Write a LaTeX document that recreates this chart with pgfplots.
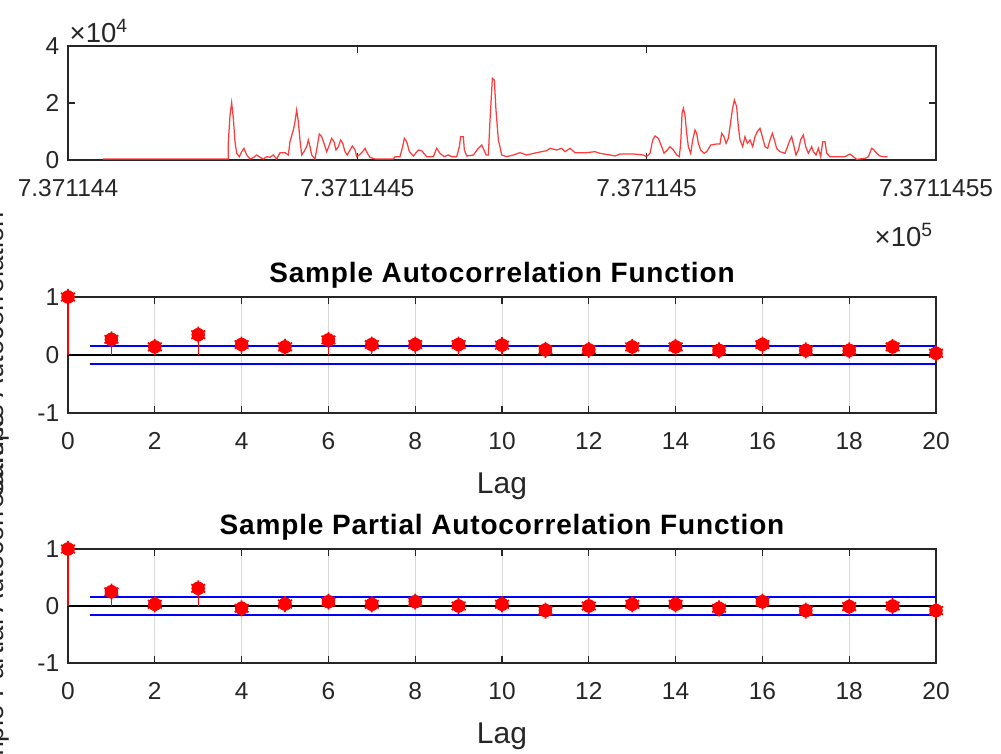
\documentclass[border=0pt]{standalone}
\usepackage{fontspec}
\setmainfont{Liberation Sans}
\usepackage{pgfplots}
\usepackage{pgfplotstable}
\pgfplotsset{compat=1.18}

\definecolor{axgray}{gray}{0.15}
\definecolor{gridgray}{gray}{0.85}
\definecolor{lred}{RGB}{255,60,60}

% price series, x in units of 0.01 day after 7.371144e5, y in 1e4
\pgfplotstableread{
x v
0.605 0.035
2.771 0.035
2.771 0.643
2.800 1.579
2.828 2.012
2.857 1.462
2.886 0.643
2.915 0.234
2.961 0.117
3.001 0.292
3.041 0.409
3.088 0.175
3.145 0.035
3.203 0.082
3.260 0.175
3.318 0.094
3.376 0.035
3.433 0.117
3.491 0.094
3.548 0.175
3.606 0.035
3.664 0.257
3.750 0.257
3.808 0.175
3.836 0.643
3.894 1.053
3.923 1.345
3.952 1.754
3.980 1.345
4.009 0.702
4.038 0.175
4.078 0.292
4.124 0.468
4.153 0.702
4.182 0.468
4.211 0.175
4.268 0.035
4.297 0.351
4.343 0.912
4.384 0.819
4.424 0.585
4.470 0.292
4.516 0.526
4.556 0.760
4.597 0.643
4.631 0.351
4.672 0.468
4.712 0.702
4.747 0.585
4.787 0.292
4.827 0.175
4.873 0.351
4.914 0.491
4.960 0.351
4.988 0.117
5.035 0.175
5.092 0.292
5.133 0.409
5.173 0.234
5.219 0.094
5.305 0.035
5.622 0.035
5.651 0.117
5.737 0.117
5.783 0.468
5.812 0.760
5.853 0.643
5.899 0.292
5.968 0.140
6.054 0.351
6.112 0.327
6.198 0.117
6.313 0.117
6.371 0.409
6.429 0.234
6.498 0.117
6.573 0.175
6.630 0.117
6.717 0.117
6.763 0.468
6.786 0.819
6.832 0.819
6.849 0.351
6.889 0.140
7.005 0.175
7.091 0.409
7.149 0.526
7.189 0.351
7.224 0.175
7.264 0.175
7.293 1.404
7.333 2.866
7.367 2.807
7.396 1.754
7.437 0.702
7.465 0.468
7.494 0.175
7.581 0.117
7.696 0.175
7.811 0.257
7.926 0.175
8.099 0.257
8.272 0.327
8.330 0.409
8.445 0.351
8.531 0.409
8.589 0.292
8.675 0.409
8.762 0.257
8.963 0.257
9.107 0.292
9.193 0.234
9.366 0.175
9.453 0.140
9.539 0.211
9.770 0.211
9.942 0.175
10.000 0.117
10.058 0.234
10.104 0.702
10.144 0.842
10.202 0.760
10.259 0.468
10.300 0.234
10.346 0.327
10.403 0.468
10.461 0.351
10.519 0.175
10.564 0.117
10.588 0.585
10.611 1.637
10.634 1.813
10.662 1.579
10.691 0.936
10.720 0.468
10.760 0.234
10.795 0.702
10.835 1.053
10.864 0.936
10.893 0.585
10.933 0.351
10.991 0.234
11.037 0.292
11.106 0.526
11.210 0.561
11.267 0.561
11.296 0.936
11.336 0.819
11.371 0.585
11.411 0.760
11.440 1.170
11.480 1.754
11.515 2.105
11.555 1.871
11.584 1.170
11.613 0.702
11.659 0.468
11.699 0.819
11.740 0.585
11.786 0.702
11.832 0.468
11.872 0.819
11.912 0.994
11.958 1.111
11.999 0.819
12.045 0.468
12.091 0.409
12.131 0.702
12.172 0.936
12.200 0.760
12.246 0.409
12.304 0.292
12.390 0.234
12.477 0.702
12.506 0.819
12.546 0.468
12.580 0.175
12.621 0.351
12.661 0.702
12.707 0.877
12.748 0.468
12.794 0.234
12.851 0.468
12.880 0.292
12.926 0.175
12.967 0.409
13.007 0.117
13.042 0.643
13.082 0.643
13.111 0.234
13.168 0.117
13.427 0.117
13.514 0.211
13.571 0.117
13.629 0.023
13.773 0.058
13.831 0.117
13.888 0.409
13.917 0.374
13.975 0.234
14.032 0.140
14.090 0.117
14.165 0.117
}\series

\pgfplotstableread{
lag r
0 1
1 0.27
2 0.14
3 0.35
4 0.18
5 0.14
6 0.26
7 0.18
8 0.18
9 0.18
10 0.17
11 0.09
12 0.09
13 0.14
14 0.14
15 0.08
16 0.18
17 0.08
18 0.08
19 0.14
20 0.03
}\acf

\pgfplotstableread{
lag r
0 1
1 0.25
2 0.03
3 0.31
4 -0.04
5 0.035
6 0.075
7 0.03
8 0.075
9 0.0
10 0.03
11 -0.08
12 0.0
13 0.03
14 0.03
15 -0.04
16 0.075
17 -0.08
18 -0.01
19 0.0
20 -0.08
}\pacf

\pgfplotsset{
  mat/.style={
    scale only axis, width=347.2pt, anchor=south west,
    axis line style={axgray, line width=0.5pt},
    tick style={axgray, line width=0.5pt},
    major tick length=2.8pt,
    ticklabel style={font=\fontsize{9.8}{11}\selectfont, text=axgray},
    xticklabel style={anchor=center, yshift=-11.2pt},
    /pgf/number format/assume math mode=true,
  },
  corr/.style={
    mat, height=46.4pt,
    xmin=0, xmax=20, ymin=-1, ymax=1,
    xtick={0,2,...,20}, ytick={-1,0,1}, yticklabels={-1,0,1},
    xmajorgrids, grid style={gridgray, line width=0.4pt},
    clip=false,
    title style={font=\fontsize{11.2}{13}\selectfont\bfseries\addfontfeatures{LetterSpace=3},
      at={(0.5,1)}, anchor=center, yshift=2.8pt},
    xlabel={Lag},
    xlabel style={font=\fontsize{12}{14}\selectfont, text=axgray, at={(0.5,0)}, anchor=center, yshift=-29.5pt},
  },
  stems/.style={red, ycomb, line width=0.45pt},
  dots/.style={red, only marks, mark=*, mark size=2.5pt},
  stars/.style={red, only marks, mark=asterisk, mark size=3.2pt, line width=0.7pt},
}

\begin{document}
\begin{tikzpicture}
\useasboundingbox (0,0) rectangle (400.4pt,301.6pt);
\clip (0,0) rectangle (400.4pt,301.6pt);

\begin{axis}[mat, at={(27.2pt,237.6pt)}, height=45.6pt,
  xmin=0, xmax=15, ymin=0, ymax=4,
  xtick={0,5,10,15},
  xticklabels={7.371144,7.3711445,7.371145,7.3711455},
  ytick={0,2,4}, yticklabels={0,2,4}]
\addplot[lred, line width=0.5pt] table[x=x, y=v] {\series};
\end{axis}

\begin{axis}[corr, at={(27.2pt,136.4pt)}, title={Sample Autocorrelation Function}]
\addplot[black, line width=0.45pt] coordinates {(0,0) (20,0)};
\addplot[blue, line width=0.6pt] coordinates {(0.5,0.155) (20,0.155)};
\addplot[blue, line width=0.6pt] coordinates {(0.5,-0.155) (20,-0.155)};
\addplot[stems] table[x=lag, y=r] {\acf};
\addplot[dots] table[x=lag, y=r] {\acf};
\addplot[stars] table[x=lag, y=r] {\acf};
\end{axis}

\begin{axis}[corr, at={(27.2pt,36.4pt)}, height=45.6pt, title={Sample Partial Autocorrelation Function}]
\addplot[black, line width=0.45pt] coordinates {(0,0) (20,0)};
\addplot[blue, line width=0.6pt] coordinates {(0.5,0.155) (20,0.155)};
\addplot[blue, line width=0.6pt] coordinates {(0.5,-0.155) (20,-0.155)};
\addplot[stems] table[x=lag, y=r] {\pacf};
\addplot[dots] table[x=lag, y=r] {\pacf};
\addplot[stars] table[x=lag, y=r] {\pacf};
\end{axis}

% multipliers and the clipped y labels
\node[text=axgray, font=\fontsize{11}{12}\selectfont] at (39.6pt,289.2pt) {×10\textsuperscript{4}};
\node[text=axgray, font=\fontsize{11}{12}\selectfont] at (361.6pt,207.6pt) {×10\textsuperscript{5}};
\node[text=axgray, font=\fontsize{11}{13}\selectfont, rotate=90, anchor=base] at (1.6pt,159.6pt) {Sample Autocorrelation};
\node[text=axgray, font=\fontsize{11}{13}\selectfont, rotate=90, anchor=base] at (1.6pt,59.2pt) {Sample Partial Autocorrelations};
\end{tikzpicture}
\end{document}
